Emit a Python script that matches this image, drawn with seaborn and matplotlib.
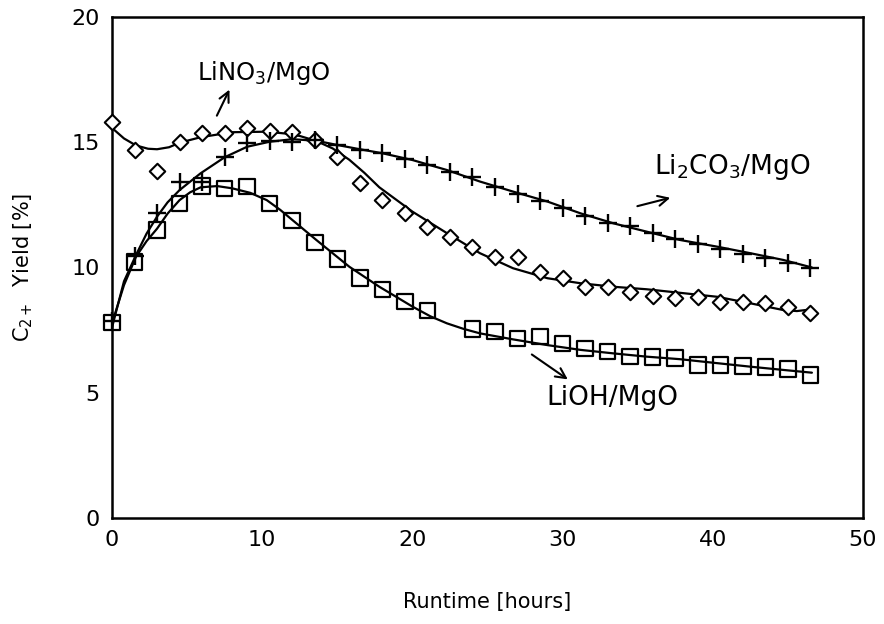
import numpy as np
import pandas as pd
import matplotlib
matplotlib.use("Agg")
import matplotlib.pyplot as plt
import seaborn as sns

# ---- measured data (runtime every 1.5 h) ----
runtime = [0, 1.5, 3, 4.5, 6, 7.5, 9, 10.5, 12, 13.5, 15, 16.5, 18, 19.5, 21, 22.5,
           24, 25.5, 27, 28.5, 30, 31.5, 33, 34.5, 36, 37.5, 39, 40.5, 42, 43.5, 45, 46.5]

lino3 = [15.82, 14.69, 13.86, 15.02, 15.36, 15.38, 15.58, 15.46, 15.40, 15.09, 14.42, 13.39,
         12.70, 12.19, 11.60, 11.20, 10.83, 10.43, 10.43, 9.83, 9.57, 9.23, 9.21, 9.03,
         8.88, 8.80, 8.83, 8.64, 8.64, 8.57, 8.41, 8.20]

li2co3 = [7.85, 10.45, 12.16, 13.43, 13.43, 14.40, 14.96, 15.06, 15.02, 15.09, 14.89, 14.69,
          14.56, 14.32, 14.09, 13.83, 13.63, 13.20, 12.93, 12.67, 12.36, 12.06, 11.79, 11.66,
          11.38, 11.15, 10.94, 10.73, 10.54, 10.37, 10.19, 9.97]

lioh = [7.80, 10.21, 11.50, 12.56, 13.25, 13.16, 13.23, 12.56, 11.87, 10.99, 10.33, 9.57,
        9.13, 8.64, 8.28, np.nan, 7.54, 7.44, 7.17, 7.24, 6.97, 6.77, 6.64, 6.44,
        6.42, 6.38, 6.11, 6.11, 6.07, 6.02, 5.94, 5.71]

# ---- fitted curves ----
fit_lino3_x = [0, 0.8, 1.6, 2.4, 3.0, 3.8, 4.5, 5.9, 8.0, 10.3, 11.5, 12.5, 13.6, 14.7, 15.8,
               16.8, 17.8, 20.0, 22.3, 24.5, 26.7, 29.0, 31.2, 33.4, 35.6, 37.8, 40.3,
               42.5, 44.7, 45.6, 46.6]
fit_lino3_y = [15.57, 15.15, 14.87, 14.74, 14.72, 14.80, 14.98, 15.20, 15.40, 15.42, 15.35,
               15.25, 15.05, 14.75, 14.30, 13.78, 13.20, 12.23, 11.37, 10.57, 9.97, 9.57,
               9.37, 9.23, 9.13, 8.99, 8.83, 8.57, 8.30, 8.26, 8.33]

fit_li2co3_x = [0, 0.3, 0.8, 1.6, 2.3, 3.0, 3.7, 4.5, 5.9, 7.5, 9.0, 10.5, 12.0, 13.6, 15.0,
                16.5, 18.0, 20.0, 22.3, 24.5, 26.7, 29.0, 31.2, 33.4, 35.6, 37.8, 40.3,
                42.5, 44.7, 46.6]
fit_li2co3_y = [7.60, 8.30, 9.45, 10.50, 11.35, 12.03, 12.60, 13.09, 13.76, 14.40, 14.82,
                15.02, 15.12, 15.06, 14.89, 14.72, 14.56, 14.29, 13.89, 13.43, 13.03,
                12.63, 12.16, 11.76, 11.43, 11.10, 10.83, 10.57, 10.30, 10.00]

fit_lioh_x = [0, 0.8, 1.6, 2.3, 3.0, 3.7, 4.5, 5.2, 5.9, 7.0, 8.0, 9.2, 10.3, 11.2, 12.0,
              13.6, 15.8, 17.8, 19.0, 20.0, 21.2, 22.3, 23.4, 24.5, 26.7, 29.0, 31.2, 33.4,
              35.6, 37.8, 40.3, 42.5, 44.7, 46.6]
fit_lioh_y = [7.77, 9.30, 10.43, 11.05, 11.55, 12.15, 12.69, 13.00, 13.20, 13.25, 13.16,
              12.98, 12.69, 12.30, 11.90, 11.10, 10.03, 9.23, 8.80, 8.44, 8.05, 7.77, 7.55,
              7.37, 7.13, 6.90, 6.71, 6.57, 6.44, 6.34, 6.18, 6.04, 5.91, 5.80]

x_ticks = [0, 10, 20, 30, 40, 50]
y_ticks = [0, 5, 10, 15, 20]

sns.set_theme(style="white")
plt.rcParams["font.family"] = ["DejaVu Sans"]
plt.rcParams["mathtext.fontset"] = "dejavusans"
for k in ["text.color", "axes.labelcolor", "xtick.color", "ytick.color", "axes.edgecolor"]:
    plt.rcParams[k] = "black"

fig = plt.figure(figsize=(8.84, 6.24), dpi=100)
ax = fig.add_axes([0.1267, 0.1699, 0.8495, 0.8029])

df = pd.DataFrame({"runtime": runtime, "lino3": lino3, "li2co3": li2co3, "lioh": lioh})

for fx, fy in [(fit_lino3_x, fit_lino3_y), (fit_li2co3_x, fit_li2co3_y), (fit_lioh_x, fit_lioh_y)]:
    sns.lineplot(x=fx, y=fy, ax=ax, color="black", lw=1.6, sort=False, estimator=None)

sns.scatterplot(data=df, x="runtime", y="lino3", ax=ax, marker="D", s=62,
                facecolor="white", edgecolor="black", linewidth=1.5, zorder=3, clip_on=False)
sns.scatterplot(data=df, x="runtime", y="lioh", ax=ax, marker="s", s=125,
                facecolor="none", edgecolor="black", linewidth=1.6, zorder=3, clip_on=False)
sns.scatterplot(data=df, x="runtime", y="li2co3", ax=ax, marker="+", s=150,
                color="black", linewidth=1.7, zorder=3, clip_on=False)

ax.set_xlim(0, 50)
ax.set_ylim(0, 20)
ax.set_xticks(x_ticks)
ax.set_yticks(y_ticks)
ax.tick_params(direction="in", length=8, width=1.5, labelsize=16, colors="black", pad=9)
for sp in ax.spines.values():
    sp.set_color("black")
    sp.set_linewidth(1.8)

ax.set_xlabel("Runtime [hours]", fontsize=15, labelpad=30)
ax.set_ylabel("C$_{2+}$  Yield [%]", fontsize=15, labelpad=26)

ann = dict(arrowstyle="->", color="black", lw=1.5, mutation_scale=18)
ax.text(10.1, 17.76, "LiNO$_3$/MgO", fontsize=17.5, ha="center", va="center")
ax.annotate("", xy=(7.9, 17.2), xytext=(6.9, 15.96), arrowprops=ann)
ax.text(41.3, 14.0, "Li$_2$CO$_3$/MgO", fontsize=19, ha="center", va="center")
ax.annotate("", xy=(37.35, 12.81), xytext=(34.8, 12.42), arrowprops=ann)
ax.text(33.3, 4.79, "LiOH/MgO", fontsize=19, ha="center", va="center")
ax.annotate("", xy=(30.5, 5.47), xytext=(27.8, 6.59), arrowprops=ann)

fig.savefig("out.png", dpi=100, facecolor="white")
